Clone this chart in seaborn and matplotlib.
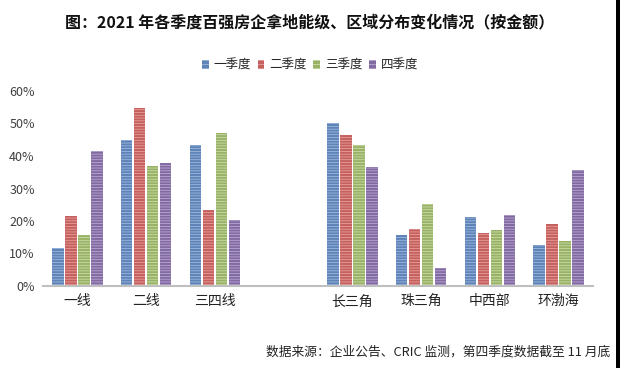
import matplotlib
matplotlib.use("Agg")
import matplotlib.pyplot as plt
from matplotlib.patches import Rectangle
import seaborn as sns
import pandas as pd

categories = ["一线", "二线", "三四线", " ", "长三角", "珠三角", "中西部", "环渤海"]
quarters = ["一季度", "二季度", "三季度", "四季度"]
q1 = [11.6, 44.9, 43.4, None, 50.2, 15.6, 21.3, 12.6]
q2 = [21.6, 54.8, 23.4, None, 46.5, 17.5, 16.3, 19.2]
q3 = [15.7, 36.9, 47.2, None, 43.4, 25.2, 17.1, 13.9]
q4 = [41.6, 37.9, 20.2, None, 36.6, 5.4, 21.8, 35.7]
yticks = [0, 10, 20, 30, 40, 50, 60]
colors = ["#4F80C6", "#D5504D", "#9DBE5C", "#8161AB"]
stripe_colors = ["#A9C2E6", "#F0AAA8", "#D3E3B0", "#C3B3DA"]

rows = []
for q, vals in zip(quarters, [q1, q2, q3, q4]):
    for c, v in zip(categories, vals):
        if v is not None:
            rows.append({"cat": c, "quarter": q, "value": v})
df = pd.DataFrame(rows)

sns.set_theme(style="white")
plt.rcParams['font.family'] = ['Noto Sans CJK SC', 'DejaVu Sans']
plt.rcParams['hatch.linewidth'] = 0.5

fig = plt.figure(figsize=(6.2, 3.68), dpi=100)
ax = fig.add_axes([43/620, (368-286)/368, 550/620, (286-91)/368])

sns.barplot(data=df, x="cat", y="value", hue="quarter", order=categories,
            hue_order=quarters, palette=colors, width=0.76, gap=0.12,
            ax=ax, legend=True, linewidth=0)

for cont, sc in zip(ax.containers, stripe_colors):
    for patch in cont:
        patch.set_hatch("------")
        patch.set_edgecolor(sc)
        patch.set_linewidth(0)

ax.set_xlim(-0.5, 7.5)
ax.set_ylim(0, 60)
ax.set_yticks(yticks)
ax.set_yticklabels([f"{t}%" for t in yticks], fontsize=9, color="#404040")
ax.tick_params(axis="x", labelsize=10, colors="#222222", length=0, pad=6)
ax.tick_params(axis="y", length=0, pad=6)
ax.set_xlabel("")
ax.set_ylabel("")
for s in ["top", "right", "left"]:
    ax.spines[s].set_visible(False)
ax.spines["bottom"].set_color("#BFBFBF")
ax.spines["bottom"].set_linewidth(1.5)

handles, labels = ax.get_legend_handles_labels()
ax.legend_.remove()
leg = fig.legend(handles, labels, loc="center", bbox_to_anchor=(0.5, (368-65)/368),
                 ncol=4, frameon=False, fontsize=9, handlelength=0.55, handleheight=0.7,
                 handletextpad=0.4, columnspacing=0.5)
for h, sc in zip(leg.legend_handles, stripe_colors):
    h.set_hatch("----")
    h.set_edgecolor(sc)

fig.text(0.5, (368-22)/368, "图：2021 年各季度百强房企拿地能级、区域分布变化情况（按金额）",
         ha="center", va="center", fontsize=11.5, fontweight="bold", color="#111111")
fig.text(610/620, (368-352)/368, "数据来源：企业公告、CRIC 监测，第四季度数据截至 11 月底",
         ha="right", va="center", fontsize=9.2, color="#222222")

fig.patches.append(Rectangle((616/620, 0), 4/620, 1, transform=fig.transFigure,
                             facecolor="black", edgecolor="none"))

fig.savefig("out.png", dpi=100)
